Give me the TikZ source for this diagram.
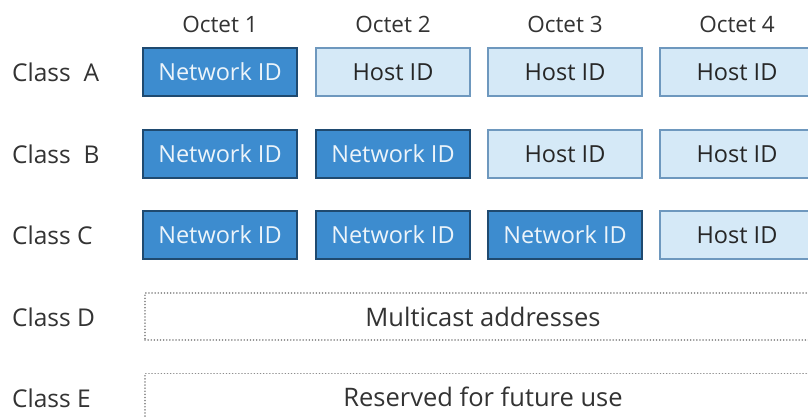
\documentclass[tikz,border=0pt]{standalone}
\usepackage{fontspec}
\setmainfont{Open Sans}
\definecolor{netfill}{HTML}{3D8CCF}
\definecolor{netdraw}{HTML}{1F4A70}
\definecolor{hostfill}{HTML}{D5E9F7}
\definecolor{hostdraw}{HTML}{6E98BE}
\definecolor{txt}{HTML}{333333}
\begin{document}
\begin{tikzpicture}[x=1pt,y=-1pt,
  netbox/.style={draw=netdraw,line width=1.3pt,fill=netfill,text=white!90!netfill,minimum width=154pt,minimum height=48pt,inner sep=0pt,font=\fontsize{23.5}{26}\selectfont},
  hostbox/.style={draw=hostdraw,line width=1.1pt,fill=hostfill,text=black!85,minimum width=154pt,minimum height=48pt,inner sep=0pt,font=\fontsize{23.5}{26}\selectfont},
  dotbox/.style={draw=gray!110!black,line width=1.6pt,dash pattern=on 0.1pt off 3pt,line cap=round,minimum width=676pt,minimum height=47pt,inner sep=0pt,text=txt,font=\fontsize{25.5}{28}\selectfont},
  lab/.style={text=txt,font=\fontsize{24.5}{28}\selectfont,anchor=west,inner sep=0pt},
  oct/.style={text=txt,font=\fontsize{22.5}{26}\selectfont,inner sep=0pt}]
\useasboundingbox (0,0) rectangle (808,416);
\clip (0,0) rectangle (808,416);
\fill[white] (0,0) rectangle (808,416);
% octets
\node[oct] (o1) at (220,24) {Octet 1};
\node[oct] (o2) at (393,24) {Octet 2};
\node[oct] (o3) at (565,24) {Octet 3};
\node[oct] (o4) at (737,24) {Octet 4};
% labels
\node[lab] (la) at (12,72) {Class\ \ A};
\node[lab] (lb) at (12,154) {Class\ \ B};
\node[lab] (lc) at (12,235) {Class C};
\node[lab] (ld) at (12,317) {Class D};
\node[lab] (le) at (12,398) {Class E};
% row A
\node[netbox] (a1) at (220,72) {Network ID};
\node[hostbox] (a2) at (393,72) {Host ID};
\node[hostbox] (a3) at (565,72) {Host ID};
\node[hostbox] (a4) at (737,72) {Host ID};
% row B
\node[netbox] (b1) at (220,154) {Network ID};
\node[netbox] (b2) at (393,154) {Network ID};
\node[hostbox] (b3) at (565,154) {Host ID};
\node[hostbox] (b4) at (737,154) {Host ID};
% row C
\node[netbox] (c1) at (220,235) {Network ID};
\node[netbox] (c2) at (393,235) {Network ID};
\node[netbox] (c3) at (565,235) {Network ID};
\node[hostbox] (c4) at (737,235) {Host ID};
% row D, E
\node[dotbox] (d) at (483,316.5) {Multicast addresses};
\node[dotbox] (e) at (483,397) {Reserved for future use};
\end{tikzpicture}
\end{document}
